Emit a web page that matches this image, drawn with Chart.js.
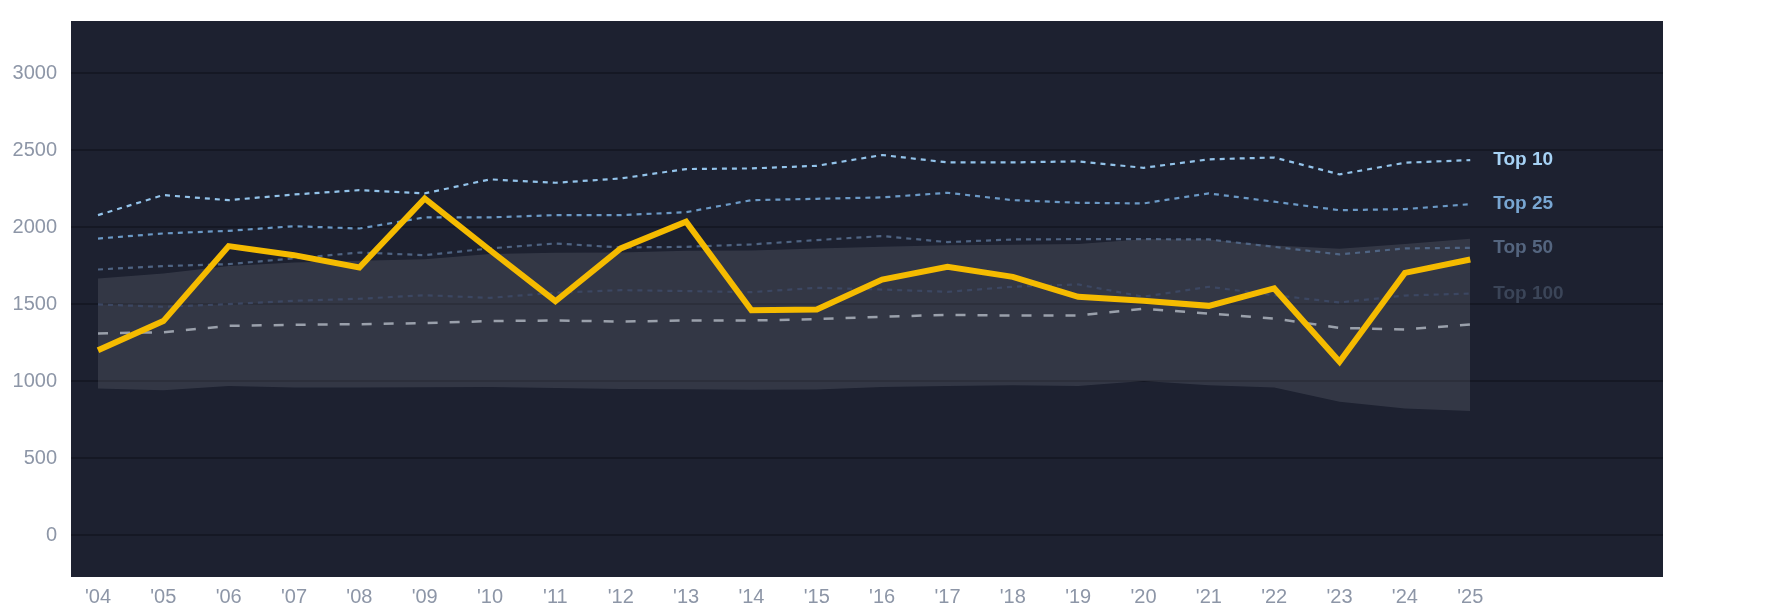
<!DOCTYPE html>
<html>
<head>
<meta charset="utf-8">
<script src="https://cdn.jsdelivr.net/npm/chart.js@4.4.1/dist/chart.umd.min.js"></script>
<style>
html,body{margin:0;padding:0;background:#ffffff;}
#wrap{width:1785px;height:614px;position:relative;}
</style>
</head>
<body>
<div id="wrap"><canvas id="c" width="1785" height="614"></canvas></div>
<script>
const years = ["'04","'05","'06","'07","'08","'09","'10","'11","'12","'13","'14","'15","'16","'17","'18","'19","'20","'21","'22","'23","'24","'25"];
const mainSeries = [1201,1390,1877,1818,1738,2186,1850,1519,1862,2035,1461,1465,1660,1742,1677,1548,1522,1489,1602,1126,1703,1790];
const top10  = [2078,2208,2175,2212,2240,2219,2310,2288,2316,2377,2381,2398,2468,2420,2420,2427,2385,2440,2452,2342,2418,2435];
const top25  = [1926,1959,1976,2006,1991,2063,2063,2078,2078,2097,2175,2184,2193,2223,2175,2158,2154,2219,2165,2110,2117,2149];
const top50  = [1725,1747,1760,1797,1835,1818,1862,1894,1868,1872,1888,1916,1942,1903,1920,1922,1922,1920,1872,1823,1862,1866];
const top100 = [1498,1483,1500,1522,1535,1558,1541,1574,1591,1585,1578,1606,1595,1580,1613,1628,1548,1613,1558,1511,1556,1569];
const median = [1310,1318,1359,1366,1370,1377,1390,1394,1387,1394,1394,1403,1418,1431,1426,1426,1470,1439,1407,1346,1336,1368];
const bandHigh = [1667,1699,1747,1771,1781,1792,1825,1833,1836,1846,1849,1862,1872,1883,1885,1890,1922,1920,1880,1860,1890,1925];
const bandLow  = [952,942,968,959,959,961,963,955,950,948,944,946,963,969,974,969,1002,974,959,866,823,807];
const yTicks = [0,500,1000,1500,2000,2500,3000];
const tierLabels = ["Top 10","Top 25","Top 50","Top 100"];
const tierColors = ["#a6d2f5","#78a6d2","#54657f","#3b4558"];

const pts = arr => arr.map((v,i)=>({x:i,y:v}));

const bgPlugin = {
  id:'bg',
  beforeDraw(chart){
    const {ctx, chartArea:a} = chart;
    ctx.save();
    ctx.fillStyle = '#1d2130';
    ctx.fillRect(a.left, a.top, a.right-a.left, a.bottom-a.top);
    ctx.restore();
  }
};
const labelPlugin = {
  id:'tierLabels',
  afterDatasetsDraw(chart){
    const {ctx} = chart;
    const xs = chart.scales.x, ys = chart.scales.y;
    const series = [top10, top25, top50, top100];
    ctx.save();
    ctx.font = "bold 19px 'Liberation Sans', Arial, sans-serif";
    ctx.textAlign = 'left';
    ctx.textBaseline = 'middle';
    series.forEach((s,k)=>{
      const last = s.length-1;
      ctx.fillStyle = tierColors[k];
      ctx.fillText(tierLabels[k], xs.getPixelForValue(last)+23, ys.getPixelForValue(s[last]));
    });
    ctx.restore();
  }
};

const lineBase = {pointRadius:0, pointHoverRadius:0, tension:0, fill:false};

new Chart(document.getElementById('c'), {
  type:'line',
  data:{
    datasets:[
      Object.assign({label:'Value', data:pts(mainSeries), borderColor:'#f5bb00', borderWidth:6}, lineBase),
      Object.assign({label:'Top 10', data:pts(top10), borderColor:'#93c3ea', borderWidth:2.2, borderDash:[5,5]}, lineBase),
      Object.assign({label:'Top 25', data:pts(top25), borderColor:'#6b99c6', borderWidth:2.2, borderDash:[5,5]}, lineBase),
      Object.assign({label:'Top 50', data:pts(top50), borderColor:'#4f6483', borderWidth:2.2, borderDash:[5,5]}, lineBase),
      Object.assign({label:'Median', data:pts(median), borderColor:'#9aa0ab', borderWidth:2.5, borderDash:[10,12]}, lineBase),
      Object.assign({label:'Top 100', data:pts(top100), borderColor:'#3c4762', borderWidth:2.2, borderDash:[5,5]}, lineBase),
      Object.assign({}, lineBase, {label:'Band high', data:pts(bandHigh), borderWidth:0, borderColor:'rgba(0,0,0,0)', fill:{target:7}, backgroundColor:'rgba(160,165,180,0.17)'}),
      Object.assign({label:'Band low', data:pts(bandLow), borderWidth:0, borderColor:'rgba(0,0,0,0)'}, lineBase)
    ]
  },
  options:{
    responsive:false,
    animation:false,
    devicePixelRatio:1,
    layout:{padding:{top:21, right:122, bottom:0, left:0}},
    plugins:{legend:{display:false}, tooltip:{enabled:false}, filler:{drawTime:'beforeDatasetsDraw'}},
    scales:{
      x:{
        type:'linear', min:-0.413, max:23.95,
        grid:{display:false, drawTicks:false},
        border:{display:false},
        afterBuildTicks(s){ s.ticks = years.map((_,i)=>({value:i})); },
        afterFit(s){ s.height = 37; s.paddingLeft = 0; s.paddingRight = 0; },
        ticks:{
          autoSkip:false, maxRotation:0, padding:8,
          color:'#8d96a7',
          font:{family:"'Liberation Sans', Arial, sans-serif", size:20},
          callback:(v)=>years[v]
        }
      },
      y:{
        min:-271, max:3338,
        grid:{color:'rgba(0,0,0,0.25)', lineWidth:2, drawTicks:false},
        border:{display:false},
        afterBuildTicks(s){ s.ticks = yTicks.map(v=>({value:v})); },
        afterFit(s){ s.width = 71; s.paddingTop = 0; s.paddingBottom = 0; },
        ticks:{
          padding:14,
          color:'#8d96a7',
          font:{family:"'Liberation Sans', Arial, sans-serif", size:20},
          callback:(v)=>String(v)
        }
      }
    }
  },
  plugins:[bgPlugin, labelPlugin]
});
</script>
</body>
</html>
